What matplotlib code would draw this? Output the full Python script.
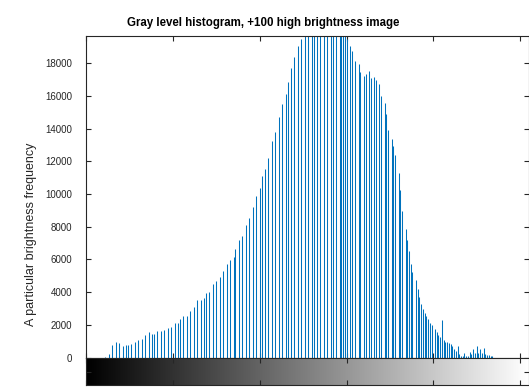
import numpy as np
import matplotlib
matplotlib.use('Agg')
import matplotlib.pyplot as plt

plt.rcParams['font.family'] = ['Liberation Sans', 'DejaVu Sans']

# gray levels that have pixels, and how many pixels each
levels = [11, 13, 15, 17, 19, 21, 23, 24, 26, 28, 30, 32, 34, 36, 38, 39, 41, 43, 45, 47, 49, 51,
          53, 54, 56, 58, 60, 62, 64, 66, 68, 69, 71, 73, 75, 77, 79, 81, 83, 85, 86, 88, 90, 92, 94, 96, 98, 100,
          101, 103, 105, 107, 109, 111, 113, 115, 116, 118, 120, 122, 124, 126,
          128, 130, 131, 133, 135, 137, 139, 141, 142, 144, 146, 147, 148, 149, 150,
          152, 153, 155, 157, 158, 160, 161, 163, 164, 166, 167, 169, 170, 172, 173, 174, 176, 177, 178,
          180, 181, 182, 184, 185, 186, 187, 188, 190, 191, 192, 193, 194, 195, 196, 197, 198, 199,
          201, 202, 203, 204, 205, 206, 207, 208, 209, 210, 211, 212, 213, 214, 215, 216, 217, 218, 219,
          220, 221, 222, 223, 224, 225, 226, 227, 228, 229, 230, 231, 232, 233, 234]
counts = [20, 185, 740, 920, 860, 680, 740, 740, 820, 940, 1090, 1150, 1350, 1540, 1415, 1415, 1600, 1600, 1660, 1785, 1890, 2090,
          2135, 2340, 2540, 2540, 2830, 3120, 3510, 3490, 3670, 3960, 4020, 4490, 4700, 4900, 5310, 5720, 5970, 6150, 6630, 7200, 7460, 8140, 8570, 9230, 9870, 10400,
          11130, 11540, 12200, 13240, 13800, 14740, 15540, 16130, 16870, 17730, 18390, 19070, 19500, 19740,
          20100, 20500, 20700, 20900, 21100, 21200, 21100, 20900, 20800, 20500, 20300, 20200, 20100, 19900, 19500,
          19090, 18780, 18140, 17940, 17490, 17240, 17340, 17550, 17080, 17160, 16970, 16730, 16010, 15600, 14920, 13900, 13390, 12940, 12400,
          11270, 10250, 8970, 7890, 7170, 6500, 5730, 5240, 4770, 4215, 3700, 3290, 2985, 2720, 2550, 2350, 2120, 1960,
          1770, 1550, 1400, 1240, 2300, 1080, 935, 935, 875, 830, 710, 505, 380, 690, 215, 110, 110, 275, 110,
          110, 340, 215, 505, 255, 710, 255, 505, 255, 600, 235, 140, 140, 75, 75]

yticks = np.arange(0, 18001, 2000)
xticks = np.arange(0, 251, 50)

axcol = '#262626'

fig = plt.figure(figsize=(5.29, 3.87), dpi=100)
ax = fig.add_axes([0.1631, 0.0762, 0.8363, 0.8316])
ax.vlines(levels, 0, counts, colors='#0072BD', linewidth=0.75)
ax.set_xlim(0, 255)
ax.set_ylim(0, 19700)
ax.set_yticks(yticks)
ax.set_yticklabels([str(v) for v in yticks])
ax.set_xticks(xticks)
ax.tick_params(axis='x', which='both', direction='in', top=True, bottom=True, labelbottom=False, length=3.3, color=axcol)
ax.tick_params(axis='y', which='both', direction='in', left=True, right=True, labelsize=7, pad=10, length=3.3,
               colors=axcol)
for s in ax.spines.values():
    s.set_color(axcol)
    s.set_linewidth(0.8)
ax.set_title('Gray level histogram, +100 high brightness image', fontsize=8.3, fontweight='bold',
             x=0.40, pad=7, color='black')

fig.text(31 / 529, 1 - 234 / 387, 'A particular brightness frequency', rotation=90,
         ha='center', va='center', fontsize=9, color=axcol)

# gray bar under the histogram
cax = fig.add_axes([0.1631, 0.0039, 0.8363, 0.0723])
grad = np.arange(256).reshape(1, -1)
cax.imshow(grad, cmap='gray', aspect='auto', extent=[0, 255, 0, 1], vmin=0, vmax=255)
cax.set_xlim(0, 255)
cax.set_ylim(0, 1)
cax.set_xticks(xticks)
cax.set_yticks([0.5])
cax.tick_params(direction='in', top=True, bottom=True, left=True, right=True, labelbottom=False, labelleft=False,
                length=3.3, color=axcol)
for s in cax.spines.values():
    s.set_color(axcol)
    s.set_linewidth(0.8)

fig.savefig('out.png', dpi=100)
